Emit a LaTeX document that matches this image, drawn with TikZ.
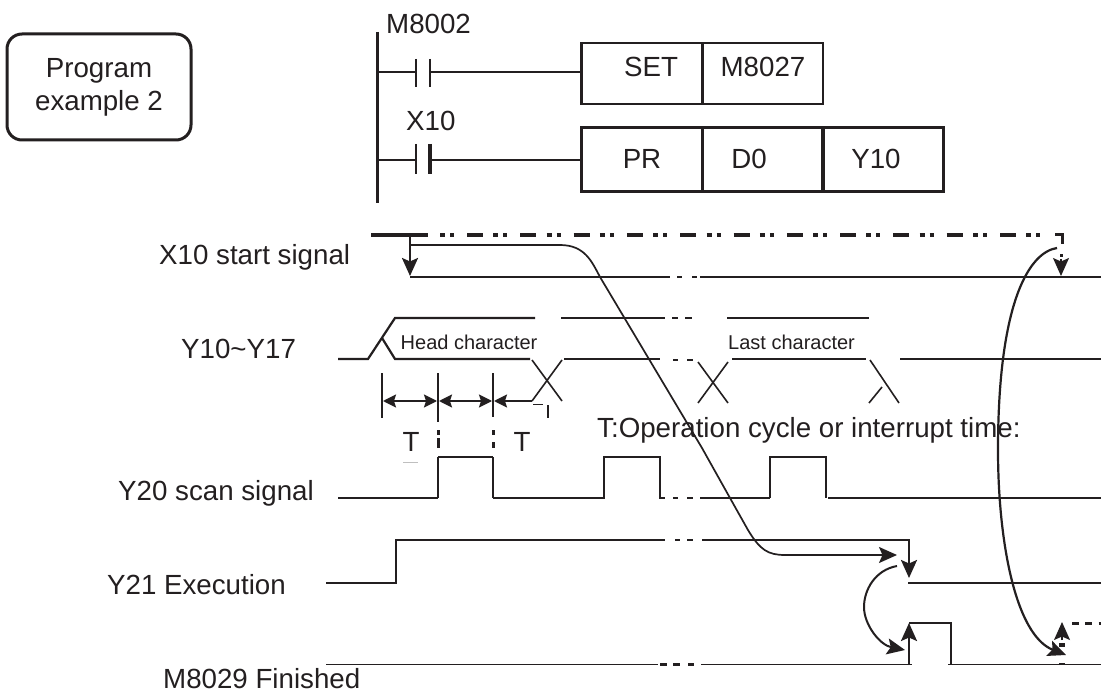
\documentclass[tikz,border=0pt]{standalone}
\usepackage{fontspec}
\setmainfont{Liberation Sans}
\usetikzlibrary{arrows.meta}
\definecolor{ink}{HTML}{231F20}
\tikzset{
  lab/.style={font=\fontsize{27.7}{33}\selectfont,inner sep=0pt,anchor=base west,text=ink},
  labc/.style={font=\fontsize{27.7}{33}\selectfont,inner sep=0pt,anchor=base,text=ink},
  small/.style={font=\fontsize{20}{24}\selectfont,inner sep=0pt,anchor=base west,text=ink},
  cellA/.style={draw=ink,line width=2.5pt,minimum width=121pt,minimum height=61pt,inner sep=0pt},
  cellB/.style={draw=ink,line width=3pt,minimum width=121pt,minimum height=64pt,inner sep=0pt},
  wave/.style={draw=ink,line width=2.2pt},
  thick wave/.style={draw=ink,line width=2.8pt},
  thin wave/.style={draw=ink,line width=1.5pt},
  bigarrow/.style={-{Stealth[length=18pt,width=16pt,inset=3.5pt]}},
  timearrow/.style={-{Stealth[length=13pt,width=13pt,inset=2pt]}},
  bothtime/.style={{Stealth[length=13pt,width=13pt,inset=2pt]}-{Stealth[length=13pt,width=13pt,inset=2pt]}},
  topdash/.style={draw=ink,line width=3.5pt,dash pattern=on 5pt off 5pt on 4pt off 13pt on 16pt off 10.3pt},
}
\begin{document}
\begin{tikzpicture}[x=1pt,y=-1pt]
\path[use as bounding box,fill=white] (0,0) rectangle (1101,695);

% title box
\node[draw=ink,line width=3pt,rounded corners=15pt,minimum width=184pt,minimum height=106pt,
      inner sep=0pt,align=center,font=\fontsize{27.7}{33}\selectfont,text=ink] (title) at (99,87)
      {Program\\example 2};

% ladder
\draw[ink,line width=3pt] (377,32) -- (377,203);
\node[cellA] (set) at (642,73.5) {};
\node[cellA] (m8027) at (762.5,73.5) {};
\node[cellB] (pr) at (641.5,160) {};
\node[cellB] (d0) at (762.5,160) {};
\node[cellB] (y10) at (883,160) {};
\coordinate (r1) at (377,72);
\coordinate (r2) at (377,160);
\coordinate (c1a) at (416,72);
\coordinate (c1b) at (430,72);
\coordinate (c2a) at (416,160);
\coordinate (c2b) at (430,160);
\draw[ink,line width=2pt] (r1) -- (c1a) (c1b) -- (set.west |- c1b);
\draw[ink,line width=2pt] (r2) -- (c2a) (c2b) -- (pr.west |- c2b);
\draw[ink,line width=2pt] (416,59) -- (416,87) (430,59) -- (430,87);
\draw[ink,line width=2pt] (416,144) -- (416,174);
\draw[ink,line width=3.4pt] (430,144) -- (430,174);
\node[lab] (tm8002) at (386,34) {M8002};
\node[lab] (tx10) at (406,131) {X10};
\node[labc] (tset) at (651,77) {SET};
\node[labc] (tm8027) at (763,77) {M8027};
\node[labc] (tpr) at (642,169) {PR};
\node[labc] (td0) at (749,169) {D0};
\node[labc] (ty10) at (876,169) {Y10};

% row labels
\node[lab] (lx) at (159,265) {X10 start signal};
\node[lab] (ly) at (181,358) {Y10\textasciitilde Y17};
\node[lab] (lz) at (118,500) {Y20 scan signal};
\node[lab] (le) at (107,594) {Y21 Execution};
\node[lab] (lm) at (163,688.5) {M8029 Finished};
\node[small] (head) at (400.5,349) {Head character};
\node[small] (last) at (728,349) {Last character};
\node[lab] (tnote) at (597,437) {T:Operation cycle or interrupt time:};
\node[labc] (t1) at (411,451) {T};
\node[labc] (t2) at (522,451) {T};
\draw[black!25,line width=1pt] (403,462) -- (418,462);

% X10 row
\draw[ink,line width=3.5pt] (371,235) -- (428,235);
\draw[topdash] (440,235) -- (1045,235);
\draw[ink,line width=3pt] (1055,235) -- (1062,235) -- (1062,244);
\fill[ink] (1060,254.5) rectangle (1063,257);
\coordinate (xd1) at (410,235);
\coordinate (xd2) at (410,276);
\coordinate (xd3) at (1061,259);
\coordinate (xd4) at (1061,276);
\draw[ink,line width=2.5pt,bigarrow] (xd1) -- (xd2);
\draw[ink,line width=1.5pt,bigarrow] (xd3) -- (xd4);
\draw[wave] (410,276.7) -- (670,276.7) (677,276.7) -- (682,276.7) (692,276.7) -- (697,276.7) (700,276.7) -- (1101,276.7);

% Y10~Y17 row
\draw[wave] (338,359) -- (368,359) -- (395,318) -- (535,318);
\draw[wave] (561,318) -- (665,318) (672,318) -- (678,318) (685,318) -- (692,318) (727,318) -- (869,318);
\draw[wave] (382,338) -- (395,359) -- (530,359);
\draw[wave] (564,359) -- (660,359) (673,360) -- (678,360) (687,360) -- (693,360) (732,359) -- (866,359) (900,359) -- (1101,359);
\draw[ink,line width=1.6pt] (532,360) -- (562,401) (562,360) -- (532,401);
\draw[ink,line width=1.6pt] (698,362) -- (728,403) (728,362) -- (698,403);
\draw[ink,line width=1.6pt] (870,360) -- (899,403) (882,387) -- (869,403);

% time marks
\draw[ink,line width=2pt] (382,373) -- (382,418);
\draw[ink,line width=2.8pt] (438,373) -- (438,422);
\draw[ink,line width=2.5pt] (493,373) -- (493,417);
\draw[ink,line width=3pt] (438,430) -- (438,435) (438,438) -- (438,448);
\draw[ink,line width=3pt] (493,430) -- (493,435) (493,442) -- (493,448);
\draw[ink,line width=2.5pt] (548,405) -- (548,418);
\draw[ink,line width=1pt] (533,404) -- (543,404);
\coordinate (a0) at (383,401);
\coordinate (a1) at (437,401);
\coordinate (a2) at (439,401);
\coordinate (a3) at (492,401);
\coordinate (a4) at (494,401);
\coordinate (a5) at (532,401);
\draw[ink,line width=1.8pt,bothtime] (a0) -- (a1);
\draw[ink,line width=1.8pt,bothtime] (a2) -- (a3);
\draw[ink,line width=1.8pt,timearrow] (a5) -- (a4);

% Y20 row
\draw[thick wave,line cap=square] (438,498) -- (438,457);
\draw[thick wave,line cap=square] (493,457) -- (493,498);
\draw[wave] (338,498) -- (438,498) (438,457) -- (493,457) (493,498) -- (604,498) -- (604,457) -- (660,457) -- (660,498) -- (665,498);
\draw[wave] (673,498) -- (678,498) (687,498) -- (693,498) (700,498) -- (770,498);
\draw[wave] (770,498) -- (770,457) -- (826,457) -- (826,498) (828,498) -- (1101,498);

% Y21 row
\draw[thick wave] (326,583) -- (396,583) -- (396,540) -- (665,540) (675,540) -- (680,540) (687,540) -- (693,540) (702,540) -- (910,540);
\coordinate (yd1) at (909,540);
\coordinate (yd2) at (909,578);
\draw[ink,line width=2.5pt,bigarrow] (yd1) -- (yd2);
\draw[wave] (908,583) -- (1101,583);

% M8029 row
\draw[thin wave] (326,664.5) -- (658,664.5);
\draw[wave] (660,664.5) -- (667,664.5) (673,664.5) -- (680,664.5) (688,664.5) -- (694,664.5);
\draw[thin wave] (701,664.5) -- (912,664.5) (948,664.5) -- (1101,664.5);
\coordinate (md1) at (909,665);
\coordinate (md2) at (909,623);
\draw[ink,line width=2.5pt,bigarrow] (md1) -- (md2);
\draw[wave] (909,623) -- (951,623) -- (951,665);
\coordinate (md3) at (1062,640);
\coordinate (md4) at (1062,622);
\draw[ink,line width=1.5pt,bigarrow] (md3) -- (md4);
\fill[ink] (1059,643) rectangle (1065,647);
\fill[ink] (1059,662.5) rectangle (1065,665);
\draw[ink,line width=3pt,dash pattern=on 7pt off 6.3pt] (1072,623) -- (1101,623);

% curves
\coordinate (cA) at (411,245);
\coordinate (cB) at (897,555);
\draw[ink,line width=1.7pt,bigarrow] (cA) -- (560,245) .. controls (585,245) and (592,262) .. (600,277)
   -- (702,448) -- (730,498) -- (748,530) .. controls (760,550) and (768,555) .. (785,555) -- (cB);
\coordinate (cC) at (897,566);
\coordinate (cD) at (905,650);
\draw[ink,line width=2pt,bigarrow] (cC) .. controls (875,570) and (864,590) .. (864,607)
   .. controls (864,625) and (880,645) .. (cD);
\coordinate (cE) at (1057,248);
\coordinate (cF) at (1066,655);
\draw[ink,line width=2.2pt,bigarrow] (cE) .. controls (1030,252) and (998,300) .. (998,450)
   .. controls (998,540) and (1015,635) .. (cF);
\end{tikzpicture}
\end{document}
